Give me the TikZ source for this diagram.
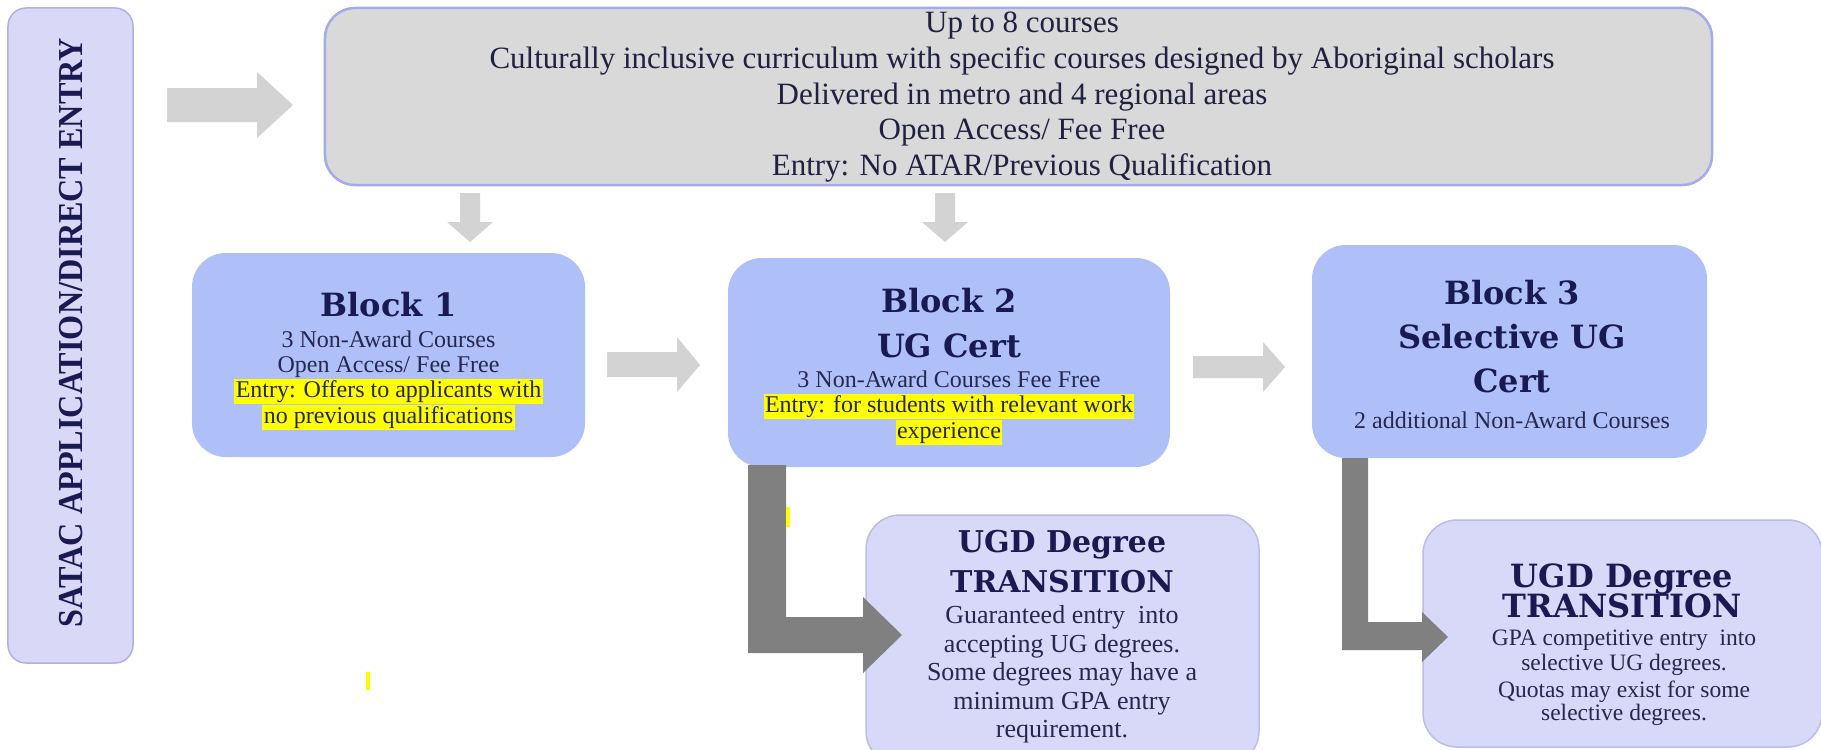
\documentclass[tikz,border=0pt]{standalone}
\usepackage{fontspec}
\setmainfont{Liberation Serif}
\newfontfamily\headfont{DejaVu Serif}
\usepackage{graphicx}
\definecolor{navy}{HTML}{1A1A52}
\definecolor{bodynavy}{HTML}{26264F}
\definecolor{toptext}{HTML}{202040}
\definecolor{satacfill}{HTML}{DAD8F7}
\definecolor{satacline}{HTML}{B2AEE6}
\definecolor{topfill}{HTML}{D9D9D9}
\definecolor{topline}{HTML}{A2ACEA}
\definecolor{blockfill}{HTML}{AFC0F8}
\definecolor{ugdfill}{HTML}{D8D8F8}
\definecolor{ugdline}{HTML}{BCBCEA}
\definecolor{lightarrow}{HTML}{D3D3D3}
\definecolor{darkarrow}{HTML}{808080}
\definecolor{hlyellow}{HTML}{FFFF00}
\newcommand{\hlyel}[1]{{\setlength{\fboxsep}{1.5bp}\colorbox{hlyellow}{\rule[-2.5bp]{0pt}{19bp}#1}}}
\begin{document}
\begin{tikzpicture}[x=1bp,y=-1bp,
  satacbox/.style={draw=satacline, line width=1.5bp, fill=satacfill, rounded corners=18bp, inner sep=0pt},
  topbox/.style={draw=topline, line width=2.5bp, fill=topfill, rounded corners=30bp, inner sep=0pt},
  blockbox/.style={fill=blockfill, rounded corners=34bp, inner sep=0pt},
  ugdbox/.style={draw=ugdline, line width=1.5bp, fill=ugdfill, rounded corners=34bp, inner sep=0pt},
  headtxt/.style={font=\headfont\bfseries\fontsize{32bp}{38bp}\selectfont, text=navy, anchor=base, inner sep=0pt},
  ugdhead/.style={font=\headfont\bfseries\fontsize{30bp}{36bp}\selectfont, text=navy, anchor=base, inner sep=0pt},
  bodytxt/.style={font=\fontsize{24bp}{26bp}\selectfont, text=bodynavy, anchor=base, inner sep=0pt},
  ugdbody/.style={font=\fontsize{26bp}{28bp}\selectfont, text=bodynavy, anchor=base, inner sep=0pt},
  ugdbodysmall/.style={font=\fontsize{23.5bp}{25bp}\selectfont, text=bodynavy, anchor=base, inner sep=0pt},
  toptxt/.style={font=\fontsize{31bp}{36bp}\selectfont, text=toptext, anchor=base, inner sep=0pt},
  satactxt/.style={font=\bfseries\fontsize{35bp}{40bp}\selectfont, text=navy, inner sep=0pt},
  lightarr/.style={fill=lightarrow},
  darkarr/.style={fill=darkarrow}
]
\useasboundingbox (0,0) rectangle (1821,750);
\fill[white] (0,0) rectangle (1821,750);

% boxes
\node[satacbox, minimum width=125bp, minimum height=655bp] (satac) at (70.5,335.5) {};
\node[topbox, minimum width=1387bp, minimum height=177bp] (top) at (1018.5,96.5) {};
\node[blockbox, minimum width=393bp, minimum height=204bp] (b1) at (388.5,355) {};
\node[blockbox, minimum width=442bp, minimum height=209bp] (b2) at (949,362.5) {};
\node[blockbox, minimum width=395bp, minimum height=213bp] (b3) at (1509.5,351.5) {};
\node[ugdbox, minimum width=393bp, minimum height=250bp] (u1) at (1062.5,640) {};
\node[ugdbox, minimum width=399bp, minimum height=227bp] (u2) at (1622.5,633.5) {};

% light arrows
\coordinate (a0s) at (167,105);
\coordinate (a0t) at (293,105);
\fill[lightarr] (a0s) ++(0,-17) -- ++(90,0) -- ++(0,-16) -- (a0t) -- ++(-36,33) -- ++(0,-16) -- ++(-90,0) -- cycle;
\coordinate (d1s) at (470,193);
\fill[lightarr] (d1s) ++(-10,0) -- ++(20,0) -- ++(0,29) -- ++(13,0) -- ++(-23,20) -- ++(-23,-20) -- ++(13,0) -- cycle;
\coordinate (d2s) at (945,193);
\fill[lightarr] (d2s) ++(-10,0) -- ++(20,0) -- ++(0,29) -- ++(13,0) -- ++(-23,20) -- ++(-23,-20) -- ++(13,0) -- cycle;
\coordinate (a1s) at (607,365);
\fill[lightarr] (a1s) ++(0,-13) -- ++(70,0) -- ++(0,-15) -- ++(23,28) -- ++(-23,27) -- ++(0,-15) -- ++(-70,0) -- cycle;
\coordinate (a2s) at (1193,367);
\fill[lightarr] (a2s) ++(0,-11) -- ++(70,0) -- ++(0,-14) -- ++(22,25) -- ++(-22,25) -- ++(0,-14) -- ++(-70,0) -- cycle;

% bent dark arrows
\coordinate (k1) at (748,465);
\fill[darkarr] (k1) -- ++(38,0) -- ++(0,152) -- ++(77,0) -- ++(0,-20) -- ++(39,38) -- ++(-39,38) -- ++(0,-20) -- ++(-115,0) -- cycle;
\coordinate (k2) at (1342,458);
\fill[darkarr] (k2) -- ++(26,0) -- ++(0,164) -- ++(54,0) -- ++(0,-10) -- ++(26,25) -- ++(-26,25) -- ++(0,-12) -- ++(-80,0) -- cycle;

% stray highlight specks
\fill[hlyellow] (786,507) rectangle (790,527);
\fill[hlyellow] (366,672) rectangle (370,690);

% SATAC text
\node[satactxt, rotate=90] (satact) at (71.5,332.5) {\scalebox{0.92}[1]{SATAC APPLICATION/DIRECT ENTRY}};

% top text
\node[toptxt] (t1) at (1022,33) {Up to 8 courses};
\node[toptxt] (t2) at (1022,68.5) {Culturally inclusive curriculum with specific courses designed by Aboriginal scholars};
\node[toptxt] (t3) at (1022,104) {Delivered in metro and 4 regional areas};
\node[toptxt] (t4) at (1022,139.5) {Open Access/ Fee Free};
\node[toptxt] (t5) at (1022,175) {Entry: No ATAR/Previous Qualification};

% block 1
\node[headtxt] (b1h) at (388.5,316) {Block 1};
\node[bodytxt] (b1a) at (388.5,347) {3 Non-Award Courses};
\node[bodytxt] (b1b) at (388.5,372) {Open Access/ Fee Free};
\node[bodytxt] (b1c) at (388.5,397) {\hlyel{Entry: Offers to applicants with}};
\node[bodytxt] (b1d) at (388.5,423) {\hlyel{no previous qualifications}};

% block 2
\node[headtxt] (b2h1) at (949,312) {Block 2};
\node[headtxt] (b2h2) at (949,357) {UG Cert};
\node[bodytxt] (b2a) at (949,387) {3 Non-Award Courses Fee Free};
\node[bodytxt] (b2b) at (949,412) {\hlyel{Entry: for students with relevant work}};
\node[bodytxt] (b2c) at (949,438) {\hlyel{experience}};

% block 3
\node[headtxt] (b3h1) at (1512,304) {Block 3};
\node[headtxt] (b3h2) at (1512,348) {Selective UG};
\node[headtxt] (b3h3) at (1512,392) {Cert};
\node[bodytxt] (b3a) at (1512,428) {2 additional Non-Award Courses};

% UGD 1
\node[ugdhead] (u1h1) at (1062,552) {UGD Degree};
\node[ugdhead] (u1h2) at (1062,592) {TRANSITION};
\node[ugdbody] (u1a) at (1062,623) {Guaranteed entry\ \ into};
\node[ugdbody] (u1b) at (1062,652) {accepting UG degrees.};
\node[ugdbody] (u1c) at (1062,680) {Some degrees may have a};
\node[ugdbody] (u1d) at (1062,709) {minimum GPA entry};
\node[ugdbody] (u1e) at (1062,737) {requirement.};

% UGD 2
\node[headtxt] (u2h1) at (1622,587) {UGD Degree};
\node[headtxt] (u2h2) at (1622,617) {TRANSITION};
\node[ugdbodysmall] (u2a) at (1624,645) {GPA competitive entry\ \ into};
\node[ugdbodysmall] (u2b) at (1624,670) {selective UG degrees.};
\node[ugdbodysmall] (u2c) at (1624,697) {Quotas may exist for some};
\node[ugdbodysmall] (u2d) at (1624,720) {selective degrees.};
\end{tikzpicture}
\end{document}
